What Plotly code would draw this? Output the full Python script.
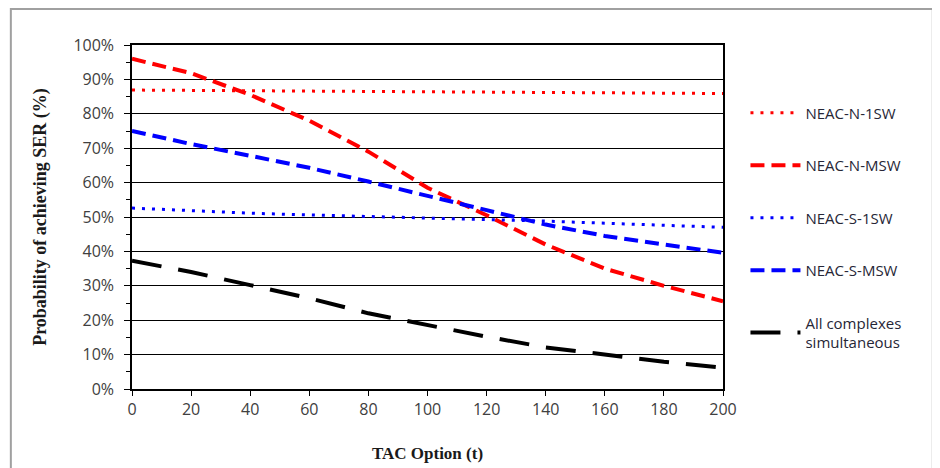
import plotly.graph_objects as go

# TAC options (t)
tac = [0, 20, 40, 60, 80, 100, 120, 140, 160, 180, 200]

# Probability of achieving SER (%)
neac_n_1sw = [86.9, 86.8, 86.7, 86.6, 86.6, 86.5, 86.4, 86.3, 86.2, 86.0, 85.9]
neac_n_msw = [96.0, 91.8, 85.5, 78.0, 69.0, 58.5, 50.5, 42.0, 35.0, 30.0, 25.5]
neac_s_1sw = [52.6, 51.8, 51.1, 50.6, 50.2, 49.8, 49.3, 48.8, 48.2, 47.6, 47.0]
neac_s_msw = [75.0, 71.2, 67.8, 64.3, 60.3, 56.0, 52.0, 47.8, 44.5, 42.0, 39.6]
all_complexes = [37.3, 34.0, 30.2, 26.4, 22.0, 18.6, 15.2, 12.1, 9.9, 7.9, 6.2]

series = [
    ("NEAC-N-1SW", neac_n_1sw, "#ff0000", 3, "3px,7px"),
    ("NEAC-N-MSW", neac_n_msw, "#ff0000", 4, "14px,7px"),
    ("NEAC-S-1SW", neac_s_1sw, "#0000ff", 3, "3px,7px"),
    ("NEAC-S-MSW", neac_s_msw, "#0000ff", 4, "14px,7px"),
    ("All complexes<br>simultaneous", all_complexes, "#000000", 4, "30px,17px"),
]

fig = go.Figure()
for i, (name, vals, col, w, dash) in enumerate(series):
    fig.add_trace(go.Scatter(
        x=tac, y=[v / 100 for v in vals], name=name, mode="lines",
        line=dict(color=col, width=w, dash=dash),
        legendgroup=str(i),
    ))

tick_font = dict(family="Open Sans, Liberation Sans, sans-serif", size=16, color="#404040")
title_font = dict(family="Liberation Serif, Times New Roman, serif", size=17, color="#1a1a1a")

# page body has an 8px margin, so the figure is nudged up/left through the margins
fig.update_layout(
    width=940, height=468,
    margin=dict(l=124, r=225, t=37, b=87),
    paper_bgcolor="white", plot_bgcolor="white",
    showlegend=True,
    legend=dict(
        x=1.038, y=0.85, xanchor="left", yanchor="top",
        font=dict(family="Open Sans, Liberation Sans, sans-serif", size=15, color="#262636"),
        tracegroupgap=30, itemwidth=50, bgcolor="rgba(0,0,0,0)",
    ),
    xaxis=dict(
        range=[0, 200], tickvals=tac, ticks="outside", ticklen=5, tickcolor="black",
        showline=True, linecolor="black", linewidth=1.5, mirror=True,
        showgrid=False, zeroline=False, tickfont=tick_font,
        title=dict(text="<b>TAC Option (t)</b>", font=title_font, standoff=28),
    ),
    yaxis=dict(
        range=[0, 1], dtick=0.1, tickformat=".0%", ticks="outside", ticklen=6,
        tickcolor="black", showline=True, linecolor="black", linewidth=1.5, mirror=True,
        showgrid=True, gridcolor="black", gridwidth=1.2, zeroline=False,
        tickfont=tick_font, ticklabelstandoff=7,
        minor=dict(dtick=0.05, ticks="outside", ticklen=4, tickcolor="black", showgrid=False),
        title=dict(text="<b>Probability of achieving SER (%)</b>",
                   font=dict(title_font, size=18), standoff=22),
    ),
)

# outer frame around the chart
fig.add_shape(type="rect", xref="paper", yref="paper",
              x0=-0.205, x1=1.355, y0=-0.25, y1=1.105,
              line=dict(color="#a0a0a0", width=2), layer="below")

fig.write_html("out.html")
